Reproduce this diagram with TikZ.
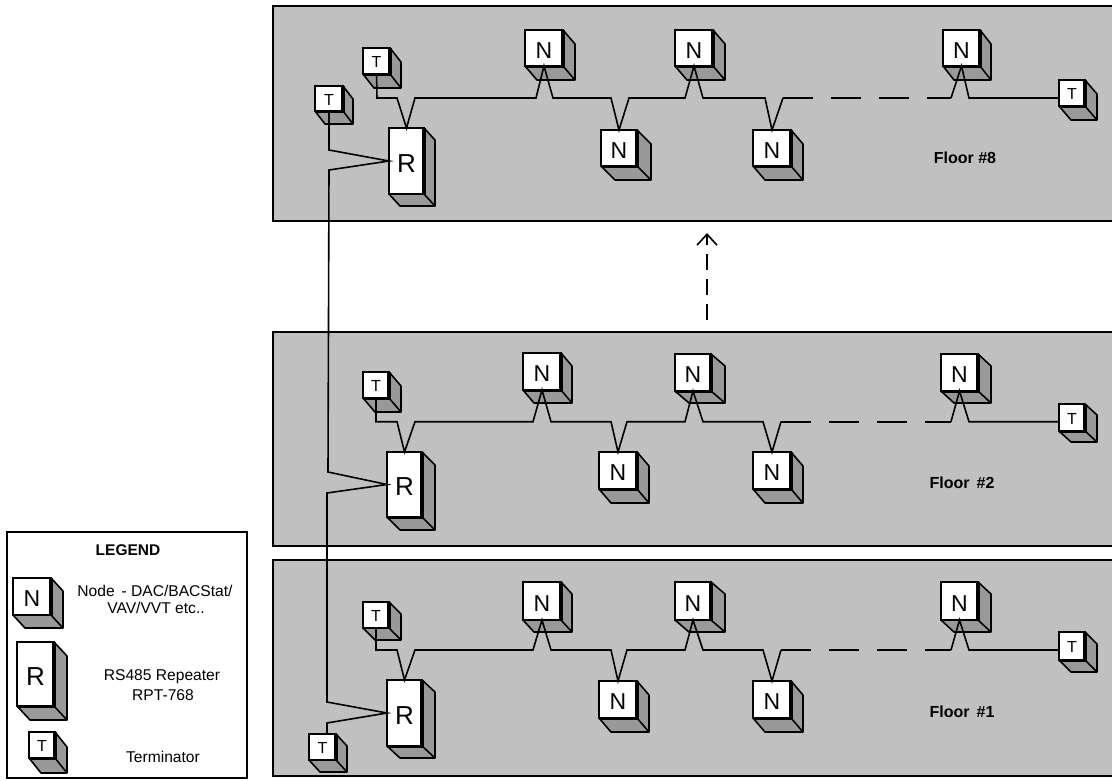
\documentclass[tikz,border=0pt]{standalone}
\usepackage{fontspec}
\setmainfont{Liberation Sans}
\usetikzlibrary{arrows.meta}
\definecolor{floorgrey}{HTML}{C0C0C0}
\definecolor{sidegrey}{HTML}{999999}
\tikzset{
  x=1pt,y=-1pt,
  floorbox/.style={fill=floorgrey,draw=black,line width=1.8pt},
  legendbox/.style={fill=white,draw=black,line width=1.6pt},
  side/.style={fill=sidegrey,draw=black,line width=1.6pt,line join=round},
  front/.style={rectangle,draw=black,fill=white,line width=1.6pt,inner sep=0pt,outer sep=0pt},
  cubeN/.style={front,font=\fontsize{23}{23}\selectfont,text height=20pt,text depth=0pt},
  cubeR/.style={front,font=\fontsize{26}{26}\selectfont,text height=22.6pt,text depth=0pt},
  cubeT/.style={front,font=\fontsize{16}{16}\selectfont,text height=13.5pt,text depth=0pt},
  wire/.style={draw=black,line width=1.6pt,line join=miter},
  dashwire/.style={wire,dash pattern=on 30pt off 18pt},
  floorlabel/.style={font=\fontsize{16}{16}\selectfont\bfseries,inner sep=0pt},
  legendtext/.style={font=\fontsize{15.6}{15.6}\selectfont,inner sep=0pt},
  legendtitle/.style={font=\fontsize{15.5}{15.5}\selectfont\bfseries,inner sep=0pt},
}
% name, x0, y0, x1, y1, back x, back y, letter, bottom edge width
\newcommand{\cubebox}[9]{%
  \pgfmathsetmacro{\cw}{#4-#2}%
  \pgfmathsetmacro{\ch}{#5-#3}%
  \pgfmathsetmacro{\cx}{(#2+#4)/2}%
  \pgfmathsetmacro{\cy}{(#3+#5)/2}%
  \pgfmathsetmacro{\dx}{#6-#4}%
  \pgfmathsetmacro{\dy}{#7-#5}%
  \path[side] (#2,#5) -- (#2+\dx,#7) -- (#6,#7) -- (#6,#3+\dy) -- (#4,#3) -- cycle;
  \draw[line width=1.6pt] (#4,#5) -- (#6,#7);
  \node[cube#8,minimum width=\cw pt,minimum height=\ch pt] (#1) at (\cx,\cy) {#8};
  \draw[line width=3.2pt] (#4,#3) -- (#4,#5);
  \draw[line width=#9pt] (#2,#5) -- (#4+1.6,#5);
}
\begin{document}
\begin{tikzpicture}
\clip (0,0) rectangle (1112,780);
\useasboundingbox (0,0) rectangle (1112,780);
\fill[white] (0,0) rectangle (1112,780);

% floors
\path[floorbox] (273,6) rectangle (1125,221);
\path[floorbox] (273,332) rectangle (1125,546);
\path[floorbox] (273,560) rectangle (1125,776);

% legend
\path[legendbox] (7,532) rectangle (247,778);
\node[legendtitle] (legtitle) at (128,550) {LEGEND};
\cubebox{legN}{13}{578}{51}{615}{63}{628}{N}{1.6}
\cubebox{legR}{17}{642}{54}{706}{67}{720}{R}{3}
\cubebox{legT}{29}{732}{55}{758}{67}{773}{T}{3}
\node[legendtext] (legn1) at (155,591) {Node\, - DAC/BACStat/};
\node[legendtext] (legn2) at (156,608) {VAV/VVT etc..};
\node[legendtext] (legr1) at (162,677) {RS485 Repeater};
\node[legendtext] (legr2) at (163,695) {RPT-768};
\node[legendtext] (legt1) at (163,757) {Terminator};

% floor 8
\cubebox{t81}{363}{48}{390}{74}{401}{88}{T}{3}
\cubebox{t82}{315}{86}{343}{111}{353}{124}{T}{3}
\cubebox{r8}{389}{128}{424}{194}{435}{206}{R}{1.6}
\cubebox{n81}{525}{30}{563}{66}{575}{80}{N}{3}
\cubebox{n82}{601}{130}{637}{166}{651}{180}{N}{3}
\cubebox{n83}{675}{30}{713}{66}{725}{80}{N}{3}
\cubebox{n84}{753}{130}{791}{166}{803}{180}{N}{3}
\cubebox{n85}{943}{30}{980}{66}{991}{80}{N}{3}
\cubebox{t83}{1059}{80}{1085}{106}{1097}{120}{T}{3}
\node[floorlabel] (f8) at (965,158) {Floor \#8};

% floor 2
\cubebox{t21}{363}{372}{389}{398}{401}{412}{T}{3}
\cubebox{r2}{387}{452}{422}{517}{435}{530}{R}{3}
\cubebox{n21}{523}{353}{561}{390}{572}{403}{N}{3}
\cubebox{n22}{599}{452}{637}{489}{649}{503}{N}{3}
\cubebox{n23}{675}{354}{711}{391}{725}{403}{N}{3}
\cubebox{n24}{753}{452}{791}{489}{803}{503}{N}{3}
\cubebox{n25}{941}{354}{978}{391}{991}{403}{N}{3}
\cubebox{t23}{1059}{404}{1085}{431}{1097}{442}{T}{3}
\node[floorlabel] (f2) at (962,483) {Floor\, \#2};

% floor 1
\cubebox{t11}{363}{602}{389}{628}{401}{640}{T}{1.6}
\cubebox{t12}{309}{734}{336}{760}{347}{772}{T}{1.6}
\cubebox{r1}{387}{680}{422}{746}{435}{758}{R}{3}
\cubebox{n11}{523}{582}{561}{620}{572}{632}{N}{1.6}
\cubebox{n12}{599}{681}{637}{718}{649}{732}{N}{3}
\cubebox{n13}{675}{582}{711}{620}{725}{632}{N}{1.6}
\cubebox{n14}{753}{681}{791}{718}{803}{732}{N}{3}
\cubebox{n15}{941}{582}{978}{620}{991}{632}{N}{1.6}
\cubebox{t13}{1059}{632}{1085}{660}{1097}{672}{T}{3}
\node[floorlabel] (f1) at (962,712) {Floor\, \#1};

% bus on floor 8
\coordinate (d8a) at (783,98);
\coordinate (d8b) at (951,98);
\draw[wire] (t81.south) -- (377,98) -- (397,98) -- (r8.north) -- (415,98) -- (536,98)
  -- (n81.south) -- (553,98) -- (611,98) -- (n82.north) -- (629,98) -- (685,98)
  -- (n83.south) -- (703,98) -- (765,98) -- (n84.north) -- (d8a);
\draw[dashwire] (d8a) -- (d8b);
\draw[wire] (d8b) -- (n85.south) -- (969,98) -- ([yshift=-5pt]t83.west);

% bus on floor 2
\coordinate (d2a) at (781,421.7);
\coordinate (d2b) at (951,421.7);
\draw[wire] (t21.south) -- (376,421.7) -- (397,421.7) -- (r2.north) -- (415,421.7) -- (533,421.7)
  -- (n21.south) -- (551,421.7) -- (611,421.7) -- (n22.north) -- (627,421.7) -- (685,421.7)
  -- (n23.south) -- (703,421.7) -- (763,421.7) -- (n24.north) -- (d2a);
\draw[dashwire] (d2a) -- (d2b);
\draw[wire] (d2b) -- (n25.south) -- (969,421.7) -- ([yshift=-4.2pt]t23.west);

% bus on floor 1
\coordinate (d1a) at (781,650);
\coordinate (d1b) at (951,650);
\draw[wire] (t11.south) -- (376,650) -- (397,650) -- (r1.north) -- (415,650) -- (533,650)
  -- (n11.south) -- (551,650) -- (611,650) -- (n12.north) -- (627,650) -- (685,650)
  -- (n13.south) -- (703,650) -- (763,650) -- (n14.north) -- (d1a);
\draw[dashwire] (d1a) -- (d1b);
\draw[wire] (d1b) -- (n15.south) -- (969,650) -- ([yshift=-4pt]t13.west);

% riser between the repeaters
\draw[wire] (t82.south) -- (329,150) -- (r8.west) -- (329,170) -- (328,472)
  -- (r2.west) -- (327,493) -- (327,702) -- (r1.west) -- (327,723) -- ([xshift=4.5pt]t12.north);

% direction arrow
\coordinate (arrowfrom) at (707,320);
\coordinate (arrowto) at (707,233);
\draw[wire,dash pattern=on 16pt off 9pt,-{Straight Barb[length=11pt,width=20pt,line width=1.6pt]}] (arrowfrom) -- (arrowto);
\end{tikzpicture}
\end{document}
